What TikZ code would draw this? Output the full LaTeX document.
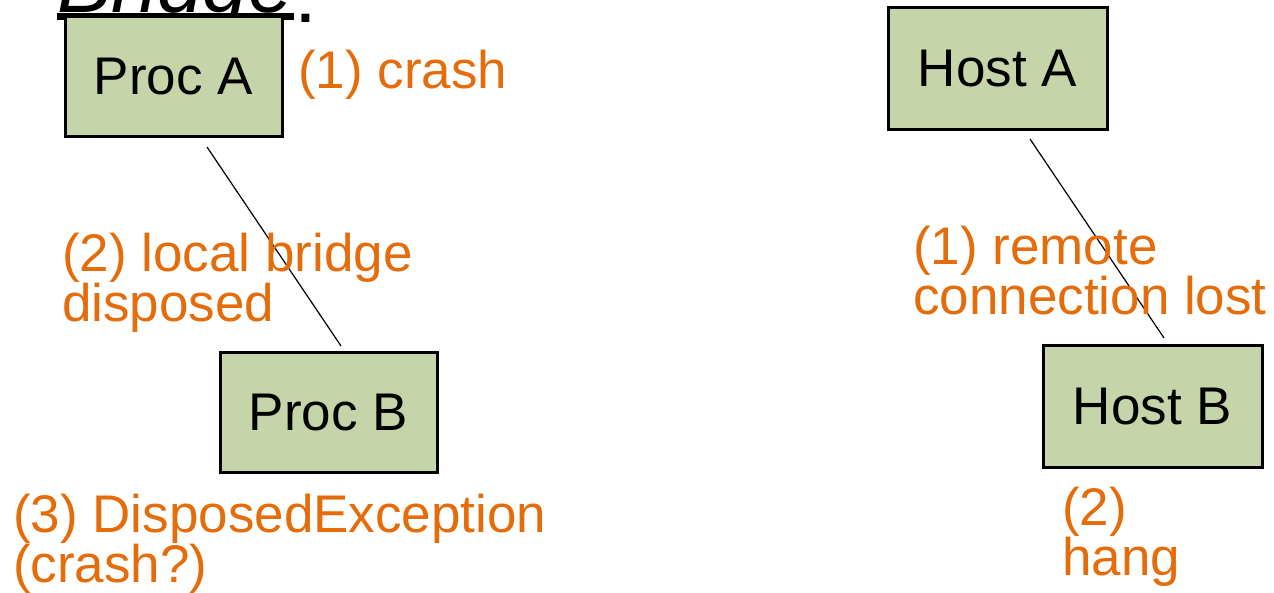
\documentclass[tikz,border=0pt]{standalone}
\usepackage{fontspec}
\setmainfont{Liberation Sans}
\definecolor{boxfill}{RGB}{197,212,169}
\definecolor{note}{RGB}{228,108,10}
\newcommand{\thickul}[1]{\setbox0\hbox{#1}\rlap{\rule[-7pt]{\wd0}{7pt}}\box0}
\begin{document}
\begin{tikzpicture}[x=1pt,y=-1pt,
  unit/.style={draw=black, line width=3pt, fill=boxfill, inner sep=0pt,
    minimum width=217pt, minimum height=120pt,
    font=\fontsize{53}{50}\selectfont},
  label/.style={anchor=base west, inner sep=0pt, align=left, text=note,
    font=\fontsize{53}{50}\selectfont},
  link/.style={draw=black, line width=1.2pt}]
\useasboundingbox (0,0) rectangle (1274,593);
\begin{scope}
\clip (0,0) rectangle (1274,593);
\node[anchor=base west, inner sep=0pt] (title) at (57,13)
  {\fontsize{82}{82}\selectfont\thickul{\itshape Bridge}\raisebox{-10pt}{:}};
\end{scope}

% left side: local processes
\node[unit] (procA) at (173.5,76.5) {Proc A};
\node[unit] (procB) at (328.5,412.5) {Proc B};
\coordinate (pa) at (207,147);
\coordinate (pb) at (341,346);
\draw[link] (pa) -- (pb);

\node[label] (crashA) at (298,89) {(1) crash};
\node[label] (disposed) at (62,322) {(2) local bridge\\disposed};
\node[label] (except) at (13,582) {(3) DisposedException\\(crash?)};

% right side: remote hosts
\node[unit, minimum width=219pt, minimum height=122pt] (hostA) at (997.5,69) {Host A};
\node[unit, minimum width=219pt, minimum height=121pt] (hostB) at (1152.5,406.5) {Host B};
\coordinate (ha) at (1030,139);
\coordinate (hb) at (1164,338);
\draw[link] (ha) -- (hb);

\node[label] (lost) at (913,315) {(1) remote\\connection lost};
\node[label] (hang) at (1062,575) {(2)\\hang};
\end{tikzpicture}
\end{document}
